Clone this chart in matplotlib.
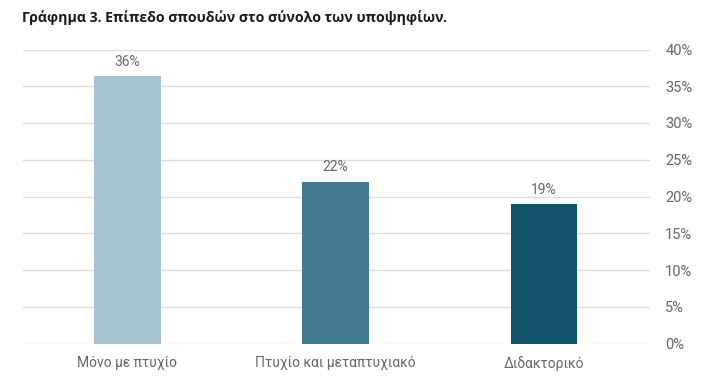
import matplotlib
matplotlib.use("Agg")
import matplotlib.pyplot as plt
from matplotlib.ticker import FuncFormatter

categories = ["Μόνο με πτυχίο", "Πτυχίο και μεταπτυχιακό", "Διδακτορικό"]
values = [36.4, 22.0, 19.0]
labels = ["36%", "22%", "19%"]
colors = ["#A7C3D1", "#437A91", "#12546B"]
yticks = [0, 5, 10, 15, 20, 25, 30, 35, 40]
title = "Γράφημα 3. Επίπεδο σπουδών στο σύνολο των υποψηφίων."

plt.rcParams['font.family'] = ['Roboto', 'DejaVu Sans']

fig = plt.figure(figsize=(7.06, 3.83), dpi=100)
ax = fig.add_axes([23/706, 1 - 343.5/383, (650 - 23)/706, (343.5 - 49.5)/383])

x = list(range(len(categories)))
ax.bar(x, values, width=0.32, color=colors, zorder=3)
for xi, v, lab in zip(x, values, labels):
    ax.text(xi, v + 1.0, lab, ha="center", va="bottom", fontsize=10, color="#666666")

ax.set_xlim(-0.5, 2.5 + 2/208.5)
ax.set_ylim(0, 40)
ax.set_yticks(yticks)
ax.yaxis.set_major_formatter(FuncFormatter(lambda v, p: f"{int(v)}%"))
ax.yaxis.tick_right()
ax.tick_params(axis="y", length=0, pad=11, labelsize=10.5, labelcolor="#666666")
ax.set_xticks(x)
ax.set_xticklabels(categories)
ax.tick_params(axis="x", length=0, pad=9, labelsize=10, labelcolor="#666666")
ax.grid(axis="y", color="#DDDDDD", linewidth=1, zorder=0)
for s in ax.spines.values():
    s.set_visible(False)

fig.text(22/706, 1 - 18/383, title, fontsize=10.2, fontweight="bold",
         family=['Open Sans', 'DejaVu Sans'], color="#1a1a1a", va="center", ha="left")

fig.savefig("out.png", dpi=100)
